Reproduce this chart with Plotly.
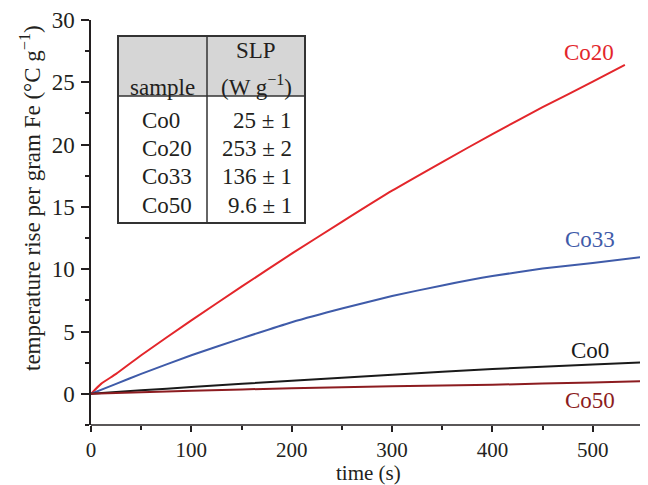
import plotly.graph_objects as go

# ---- data ----
t_co20 = [0, 10, 25, 50, 100, 150, 200, 250, 300, 350, 400, 450, 500, 532]
v_co20 = [0, 0.8, 1.6, 3.1, 5.9, 8.6, 11.25, 13.8, 16.3, 18.6, 20.85, 23.0, 25.05, 26.4]

t_co33 = [0, 25, 50, 100, 150, 200, 250, 300, 350, 400, 450, 500, 552]
v_co33 = [0, 0.8, 1.6, 3.1, 4.45, 5.75, 6.85, 7.85, 8.7, 9.45, 10.05, 10.5, 11.0]

t_co0 = [0, 50, 100, 200, 300, 400, 500, 563]
v_co0 = [0, 0.28, 0.55, 1.06, 1.53, 2.0, 2.35, 2.58]

t_co50 = [0, 50, 100, 200, 300, 400, 500, 557]
v_co50 = [0, 0.13, 0.25, 0.45, 0.6, 0.73, 0.92, 1.04]

series_names = ["Co20", "Co33", "Co0", "Co50"]
series_colors = ["#e3262b", "#3f5ba9", "#1a1a1a", "#8c1c20"]
label_t = [496, 497, 497, 497]
label_v = [27.4, 12.4, 3.45, -0.56]

table_samples = ["Co0", "Co20", "Co33", "Co50"]
table_slp = ["25 ± 1", "253 ± 2", "136 ± 1", "9.6 ± 1"]

x_ticks = [0, 100, 200, 300, 400, 500]
y_ticks = [0, 5, 10, 15, 20, 25, 30]

FONT = "Liberation Serif, Times New Roman, serif"
FS = 23
INK = "#231f20"

fig = go.Figure()
all_t = [t_co20, t_co33, t_co0, t_co50]
all_v = [v_co20, v_co33, v_co0, v_co50]
for name, col, tt, vv in zip(series_names, series_colors, all_t, all_v):
    fig.add_trace(go.Scatter(x=tt, y=vv, mode="lines", name=name,
                             line=dict(color=col, width=2, shape="spline", smoothing=0.5),
                             showlegend=False))

for name, col, lt, lv in zip(series_names, series_colors, label_t, label_v):
    fig.add_annotation(x=lt, y=lv, xref="x", yref="y", text=name, showarrow=False,
                       font=dict(family=FONT, size=FS, color=col), xanchor="center", yanchor="middle")

# axis line for x (ends at 550 like the reference)
fig.add_shape(type="line", xref="x", yref="paper", x0=0, x1=550, y0=0, y1=0,
              line=dict(color=INK, width=1.5))

# ---- table (positions in px from the top-left) ----
TOP, BOT = 12, 68
W0, W1 = 83, 565
H1 = 485 - TOP - BOT
H0 = TOP + H1
def px(x):
    return (x - W0) / W1
def py(y):
    return (H0 - y) / H1

tx0, tx1, txd = px(110), px(297), px(199)
ty0, ty1, tyh = py(215), py(28), py(88)
fig.add_shape(type="rect", xref="paper", yref="paper", x0=tx0, x1=tx1, y0=tyh, y1=ty1,
              fillcolor="#d6d6d6", line=dict(width=0), layer="below")
fig.add_shape(type="rect", xref="paper", yref="paper", x0=tx0, x1=tx1, y0=ty0, y1=ty1,
              line=dict(color="#333333", width=2))
fig.add_shape(type="line", xref="paper", yref="paper", x0=tx0, x1=tx1, y0=tyh, y1=tyh,
              line=dict(color="#333333", width=1.5))
fig.add_shape(type="line", xref="paper", yref="paper", x0=txd, x1=txd, y0=ty0, y1=ty1,
              line=dict(color="#333333", width=1.5))

tf = dict(family=FONT, size=FS, color=INK)
fig.add_annotation(x=px(248), y=py(43), xref="paper", yref="paper", text="SLP",
                   showarrow=False, font=tf, xanchor="center", yanchor="middle")
fig.add_annotation(x=px(248), y=py(77), xref="paper", yref="paper", text="(W g<sup>−1</sup>)",
                   showarrow=False, font=tf, xanchor="center", yanchor="middle")
fig.add_annotation(x=px(154), y=py(80), xref="paper", yref="paper", text="sample",
                   showarrow=False, font=tf, xanchor="center", yanchor="middle")
row_y = [112, 140, 168, 197]
for s, v, ry in zip(table_samples, table_slp, row_y):
    fig.add_annotation(x=px(132), y=py(ry), xref="paper", yref="paper", text=s,
                       showarrow=False, font=tf, xanchor="left", yanchor="middle")
    fig.add_annotation(x=px(286), y=py(ry), xref="paper", yref="paper", text=v,
                       showarrow=False, font=tf, xanchor="right", yanchor="middle")

# axis titles
fig.add_annotation(x=px(22), y=py(190), xref="paper", yref="paper",
                   text="temperature rise per gram Fe (°C g<sup>−1</sup>)",
                   textangle=-90, showarrow=False, font=tf, xanchor="center", yanchor="middle")
fig.add_annotation(x=px(360), y=py(465), xref="paper", yref="paper", text="time (s)",
                   showarrow=False, font=dict(family=FONT, size=21, color=INK),
                   xanchor="center", yanchor="middle", borderpad=0)

fig.update_layout(
    width=648, height=485,
    margin=dict(l=83, r=0, t=TOP, b=BOT),
    paper_bgcolor="white", plot_bgcolor="white",
    font=dict(family=FONT, size=FS, color=INK),
    xaxis=dict(range=[0, 563], tickvals=x_ticks, ticks="outside", ticklen=6, tickwidth=1.5,
               tickcolor=INK, showgrid=False, zeroline=False, showline=False,
               minor=dict(dtick=50, tick0=0, ticks="outside", ticklen=4, tickwidth=1.5, tickcolor=INK),
               tickfont=dict(family=FONT, size=21, color=INK)),
    yaxis=dict(range=[-2.5, 30], tickvals=y_ticks, ticks="outside", ticklen=8, tickwidth=1.5,
               tickcolor=INK, showgrid=False, zeroline=False, showline=True, linecolor=INK,
               linewidth=1.5,
               minor=dict(dtick=2.5, tick0=0, ticks="outside", ticklen=4, tickwidth=1.5, tickcolor=INK),
               tickfont=tf, ticklabelstandoff=2),
)

fig.write_html("out.html")
